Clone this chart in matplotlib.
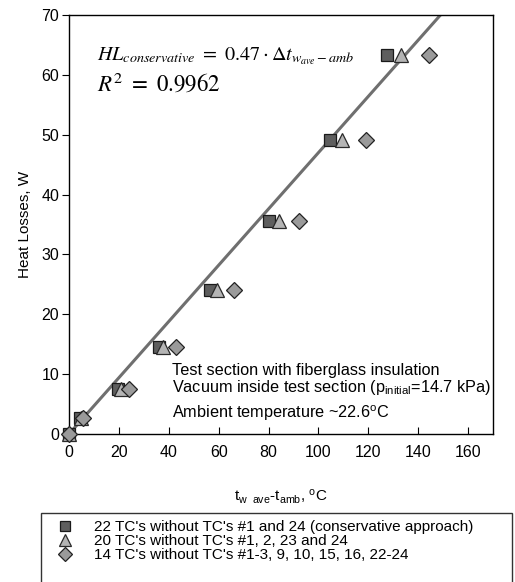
import numpy as np
import matplotlib
matplotlib.use("Agg")
import matplotlib.pyplot as plt
from matplotlib.patches import Rectangle
from matplotlib.lines import Line2D

plt.rcParams['font.family'] = ['Liberation Sans', 'DejaVu Sans']
plt.rcParams['mathtext.fontset'] = 'custom'
plt.rcParams['mathtext.rm'] = 'Liberation Sans'
plt.rcParams['mathtext.it'] = 'Liberation Sans:italic'
plt.rcParams['mathtext.bf'] = 'Liberation Sans:bold'

# ---- data ----
heat_loss = [0, 2.6, 7.6, 14.5, 24.0, 35.6, 49.2, 63.3]
dt_22tc = [0, 4.3, 19.6, 36.0, 56.5, 80.2, 104.7, 127.5]
dt_20tc = [0, 5.0, 20.8, 37.8, 59.5, 84.0, 109.6, 133.0]
dt_14tc = [0, 5.7, 24.0, 43.0, 66.0, 92.3, 119.0, 144.3]
fit_slope = 0.47
r_squared = 0.9962
labels = ["22 TC's without TC's #1 and 24 (conservative approach)",
          "20 TC's without TC's #1, 2, 23 and 24",
          "14 TC's without TC's #1-3, 9, 10, 15, 16, 22-24"]
x_ticks = [0, 20, 40, 60, 80, 100, 120, 140, 160]
y_ticks = [0, 10, 20, 30, 40, 50, 60, 70]

W, H = 515, 582
fig = plt.figure(figsize=(W / 100, H / 100), dpi=100)
ax = fig.add_axes([69 / W, 1 - 434 / H, (493 - 69) / W, (434 - 15) / H])

xl = np.linspace(0, 170, 200)
ax.plot(xl, fit_slope * xl, color='#6f6f6f', lw=2.2, zorder=2)

ax.plot(dt_22tc, heat_loss, ls='none', marker='s', ms=8, mfc='#5e5e5e',
        mec='#1a1a1a', mew=0.9, clip_on=False, zorder=3)
ax.plot(dt_20tc, heat_loss, ls='none', marker='^', ms=9.5, mfc='#b4b4b4',
        mec='#2a2a2a', mew=0.9, clip_on=False, zorder=4)
ax.plot(dt_14tc, heat_loss, ls='none', marker='D', ms=8, mfc='#9a9a9a',
        mec='#222222', mew=0.9, clip_on=False, zorder=5)

ax.set_xlim(0, 170)
ax.set_ylim(0, 70)
ax.set_xticks(x_ticks)
ax.set_yticks(y_ticks)
ax.tick_params(axis='x', direction='in', length=5, labelsize=11.5, pad=8)
ax.tick_params(axis='y', direction='out', length=5, labelsize=11.5, pad=2)
for s in ax.spines.values():
    s.set_linewidth(1.0)

ax.set_xlabel(r"t$_{\rm w\ \ ave}$-t$_{\rm amb}$, $^{\rm o}$C", fontsize=11, labelpad=20)
ax.set_ylabel("Heat Losses, W", fontsize=11, labelpad=7)

fig.text(97 / W, 1 - 60 / H,
         r"$HL_{conservative}\ =\ 0.47\cdot \mathit{\Delta} t_{w_{ave}-amb}$",
         fontsize=14.5, math_fontfamily='stix', ha='left', va='baseline')
fig.text(97 / W, 1 - 91 / H, r"$R^2\ =\ $" + r"$%s$" % r_squared,
         fontsize=16.5, math_fontfamily='stix', ha='left', va='baseline')

fig.text(172 / W, 1 - 375 / H, "Test section with fiberglass insulation",
         fontsize=11.7, ha='left', va='baseline')
fig.text(172 / W, 1 - 392 / H, r"Vacuum inside test section (p$_{\rm initial}$=14.7 kPa)",
         fontsize=11.7, ha='left', va='baseline')
fig.text(172 / W, 1 - 418 / H, r"Ambient temperature ~22.6$^{\rm o}$C",
         fontsize=11.7, ha='left', va='baseline')

# legend box
fig.patches.append(Rectangle((41 / W, -0.05), (512 - 41) / W, 0.05 + 1 - 513 / H,
                             transform=fig.transFigure, fill=False,
                             ec='#333333', lw=1.0))
handles = [Line2D([], [], ls='none', marker='s', ms=7, mfc='#5e5e5e', mec='#1a1a1a', mew=0.9),
           Line2D([], [], ls='none', marker='^', ms=8, mfc='#b4b4b4', mec='#2a2a2a', mew=0.9),
           Line2D([], [], ls='none', marker='D', ms=7, mfc='#9a9a9a', mec='#222222', mew=0.9)]
fig.legend(handles, labels, loc='upper left', bbox_to_anchor=(56 / W, 1 - 520 / H),
           frameon=False, fontsize=11, labelspacing=0.0, handlelength=1.2,
           handletextpad=1.3, borderpad=0, borderaxespad=0)

fig.savefig("out.png", dpi=100)
